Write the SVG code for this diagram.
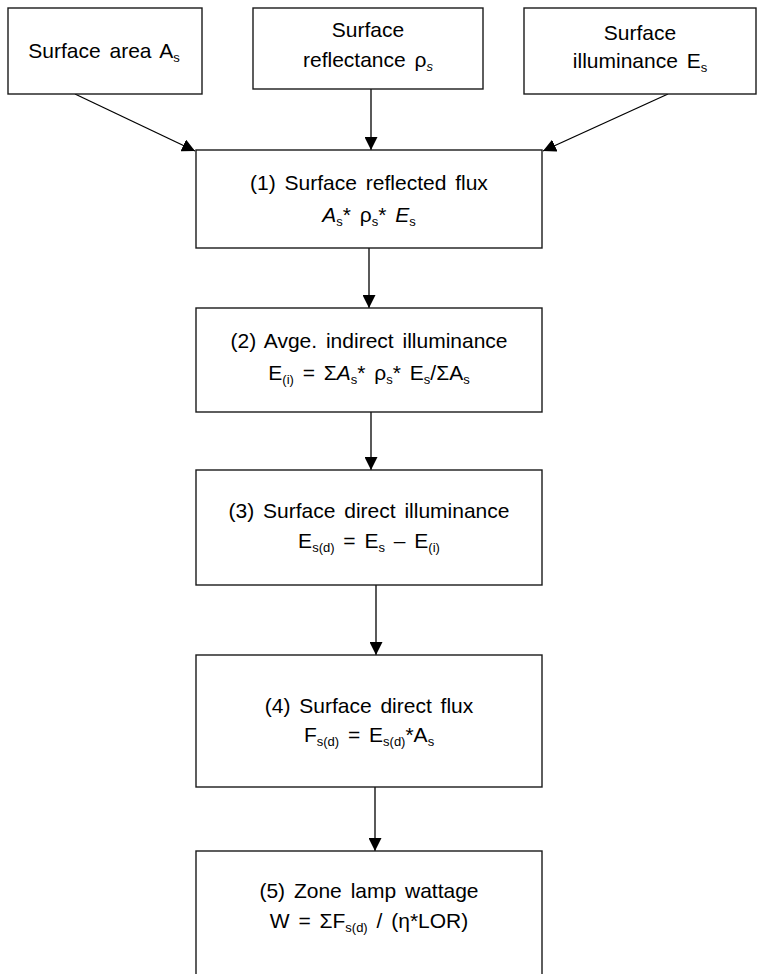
<svg xmlns="http://www.w3.org/2000/svg" width="757" height="974" viewBox="0 0 757 974">
<defs>
<style>
.box{fill:#fff;stroke:#1a1a1a;stroke-width:1.4}
.t{font-family:"Liberation Sans",Arial,Helvetica,sans-serif;font-size:21px;fill:#000;text-anchor:middle;word-spacing:3px}
.sub{font-size:13px}
.i{font-style:italic}
.c{stroke:#000;stroke-width:1.3;fill:none;marker-end:url(#ah)}
</style>
<marker id="ah" viewBox="0 0 13 13" refX="13" refY="6.5" markerWidth="13" markerHeight="13" markerUnits="userSpaceOnUse" orient="auto">
<path d="M0,0 L13,6.5 L0,13 z" fill="#000"/>
</marker>
</defs>
<rect width="757" height="974" fill="#fff"/>
<g id="connectors">
<line class="c" x1="75" y1="94" x2="195" y2="151"/>
<line class="c" x1="371" y1="89" x2="371" y2="150"/>
<line class="c" x1="668" y1="94" x2="543" y2="151"/>
<line class="c" x1="369" y1="248" x2="369" y2="308"/>
<line class="c" x1="371" y1="412" x2="371" y2="470"/>
<line class="c" x1="376" y1="585" x2="376" y2="655"/>
<line class="c" x1="375" y1="787" x2="375" y2="851"/>
</g>
<g id="nodeA">
<rect class="box" x="8" y="8" width="194" height="86"/>
<text class="t" x="104" y="58">Surface area A<tspan class="sub" dy="4">s</tspan></text>
</g>
<g id="nodeB">
<rect class="box" x="253" y="8" width="230" height="81"/>
<text class="t" x="368" y="37">Surface</text>
<text class="t" x="368" y="67">reflectance ρ<tspan class="sub i" dy="4">s</tspan></text>
</g>
<g id="nodeC">
<rect class="box" x="524" y="8" width="232" height="86"/>
<text class="t" x="640" y="40">Surface</text>
<text class="t" x="640" y="68">illuminance E<tspan class="sub" dy="4">s</tspan></text>
</g>
<g id="node1">
<rect class="box" x="196" y="150" width="346" height="98"/>
<text class="t" x="369" y="190">(1) Surface reflected flux</text>
<text class="t" x="369" y="222"><tspan class="i">A</tspan><tspan class="sub" dy="4">s</tspan><tspan dy="-4">* ρ</tspan><tspan class="sub" dy="4">s</tspan><tspan dy="-4">* </tspan><tspan class="i">E</tspan><tspan class="sub" dy="4">s</tspan></text>
</g>
<g id="node2">
<rect class="box" x="196" y="308" width="346" height="104"/>
<text class="t" x="369" y="348">(2) Avge. indirect illuminance</text>
<text class="t" x="369" y="380">E<tspan class="sub" dy="4">(i)</tspan><tspan dy="-4"> = Σ</tspan><tspan class="i">A</tspan><tspan class="sub" dy="4">s</tspan><tspan dy="-4">* ρ</tspan><tspan class="sub" dy="4">s</tspan><tspan dy="-4">* E</tspan><tspan class="sub" dy="4">s</tspan><tspan dy="-4">/ΣA</tspan><tspan class="sub" dy="4">s</tspan></text>
</g>
<g id="node3">
<rect class="box" x="196" y="470" width="346" height="115"/>
<text class="t" x="369" y="518">(3) Surface direct illuminance</text>
<text class="t" x="369" y="548">E<tspan class="sub" dy="4">s(d)</tspan><tspan dy="-4"> = E</tspan><tspan class="sub" dy="4">s</tspan><tspan dy="-4"> – E</tspan><tspan class="sub" dy="4">(i)</tspan></text>
</g>
<g id="node4">
<rect class="box" x="196" y="655" width="346" height="132"/>
<text class="t" x="369" y="713">(4) Surface direct flux</text>
<text class="t" x="369" y="742">F<tspan class="sub" dy="4">s(d)</tspan><tspan dy="-4"> = E</tspan><tspan class="sub" dy="4">s(d)</tspan><tspan dy="-4">*A</tspan><tspan class="sub" dy="4">s</tspan></text>
</g>
<g id="node5">
<rect class="box" x="196" y="851" width="346" height="135"/>
<text class="t" x="369" y="898">(5) Zone lamp wattage</text>
<text class="t" x="369" y="928">W = ΣF<tspan class="sub" dy="4">s(d)</tspan><tspan dy="-4"> / (η*LOR)</tspan></text>
</g>
</svg>
